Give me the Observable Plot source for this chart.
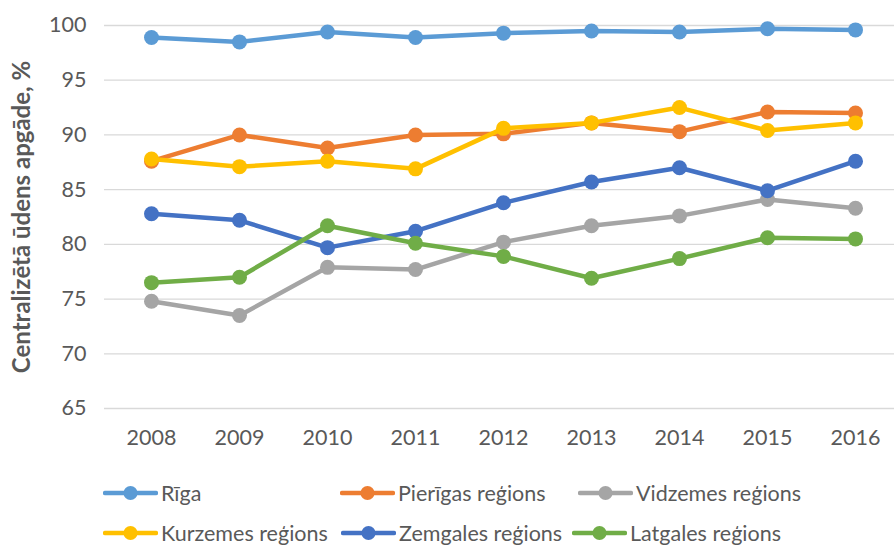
<!DOCTYPE html>
<html><head><meta charset="utf-8">
<script src="https://cdn.jsdelivr.net/npm/d3@7"></script>
<script src="https://cdn.jsdelivr.net/npm/@observablehq/plot@0.6"></script>
<style>
body{margin:0;background:#fff;font-family:Lato, sans-serif;}
#legend{position:relative;width:894px;height:78px;}
.item{position:absolute;display:flex;align-items:center;font-size:21.5px;color:#595959;white-space:nowrap;height:28px;line-height:28px;}
.item svg{margin-right:3px;}
</style></head><body><div id="chart"></div><div id="legend"></div>
<script>
const years = ["2008","2009","2010","2011","2012","2013","2014","2015","2016"];
const yTicks = [65,70,75,80,85,90,95,100];
const yLabel = "Centralizētā ūdens apgāde, %";
const seriesNames = ["Rīga","Pierīgas reģions","Vidzemes reģions","Kurzemes reģions","Zemgales reģions","Latgales reģions"];
const seriesColors = ["#5B9BD5","#ED7D31","#A5A5A5","#FFC000","#4472C4","#70AD47"];
const riga      = [98.9, 98.5, 99.4, 98.9, 99.3, 99.5, 99.4, 99.7, 99.6];
const pierigas  = [87.6, 90.0, 88.8, 90.0, 90.1, 91.1, 90.3, 92.1, 92.0];
const vidzemes  = [74.8, 73.5, 77.9, 77.7, 80.2, 81.7, 82.6, 84.1, 83.3];
const kurzemes  = [87.8, 87.1, 87.6, 86.9, 90.6, 91.1, 92.5, 90.4, 91.1];
const zemgales  = [82.8, 82.2, 79.7, 81.2, 83.8, 85.7, 87.0, 84.9, 87.6];
const latgales  = [76.5, 77.0, 81.7, 80.1, 78.9, 76.9, 78.7, 80.6, 80.5];
const seriesValues = [riga, pierigas, vidzemes, kurzemes, zemgales, latgales];

const seriesMarks = seriesNames.flatMap((name, i) => {
  const rows = years.map((y, j) => ({year: y, value: seriesValues[i][j], series: name}));
  return [
    Plot.line(rows, {x: "year", y: "value", stroke: seriesColors[i], strokeWidth: 4.5, strokeLinejoin: "round", strokeLinecap: "round"}),
    Plot.dot(rows, {x: "year", y: "value", r: 7.5, fill: seriesColors[i], stroke: "none"})
  ];
});

const chart = Plot.plot({
  width: 894, height: 470,
  marginLeft: 104, marginRight: 0, marginTop: 25, marginBottom: 62,
  style: {fontFamily: "Lato, sans-serif", fontSize: "21.5px", color: "#595959", background: "#fff"},
  x: {type: "point", domain: years, range: [148, 857], padding: 0, label: null},
  y: {domain: [65, 100], label: null},
  marks: [
    Plot.gridY(yTicks, {stroke: "#d9d9d9", strokeOpacity: 1, strokeWidth: 1.3}),
    Plot.axisX({tickSize: 0, tickPadding: 21, label: null}),
    Plot.axisY(yTicks, {tickSize: 0, tickPadding: 18, label: null}),
    ...seriesMarks,
    Plot.text([yLabel], {text: d => d, frameAnchor: "left", dx: -82, rotate: -90, textAnchor: "middle", fontWeight: "bold", fontSize: 24, fill: "#595959"})
  ]
});
document.getElementById("chart").appendChild(chart);

const legendPos = [[103, 9], [340, 9], [578, 9], [103, 49], [341, 49], [572, 49]];
const legend = document.getElementById("legend");
seriesNames.forEach((name, i) => {
  const div = document.createElement("div");
  div.className = "item";
  div.style.left = legendPos[i][0] + "px";
  div.style.top = legendPos[i][1] + "px";
  const c = seriesColors[i];
  div.innerHTML = `<svg width="55" height="20"><line x1="2" y1="10" x2="53" y2="10" stroke="${c}" stroke-width="4.5" stroke-linecap="round"/><circle cx="27.5" cy="10" r="7" fill="${c}"/></svg><span>${name}</span>`;
  legend.appendChild(div);
});
</script>
</body></html>
